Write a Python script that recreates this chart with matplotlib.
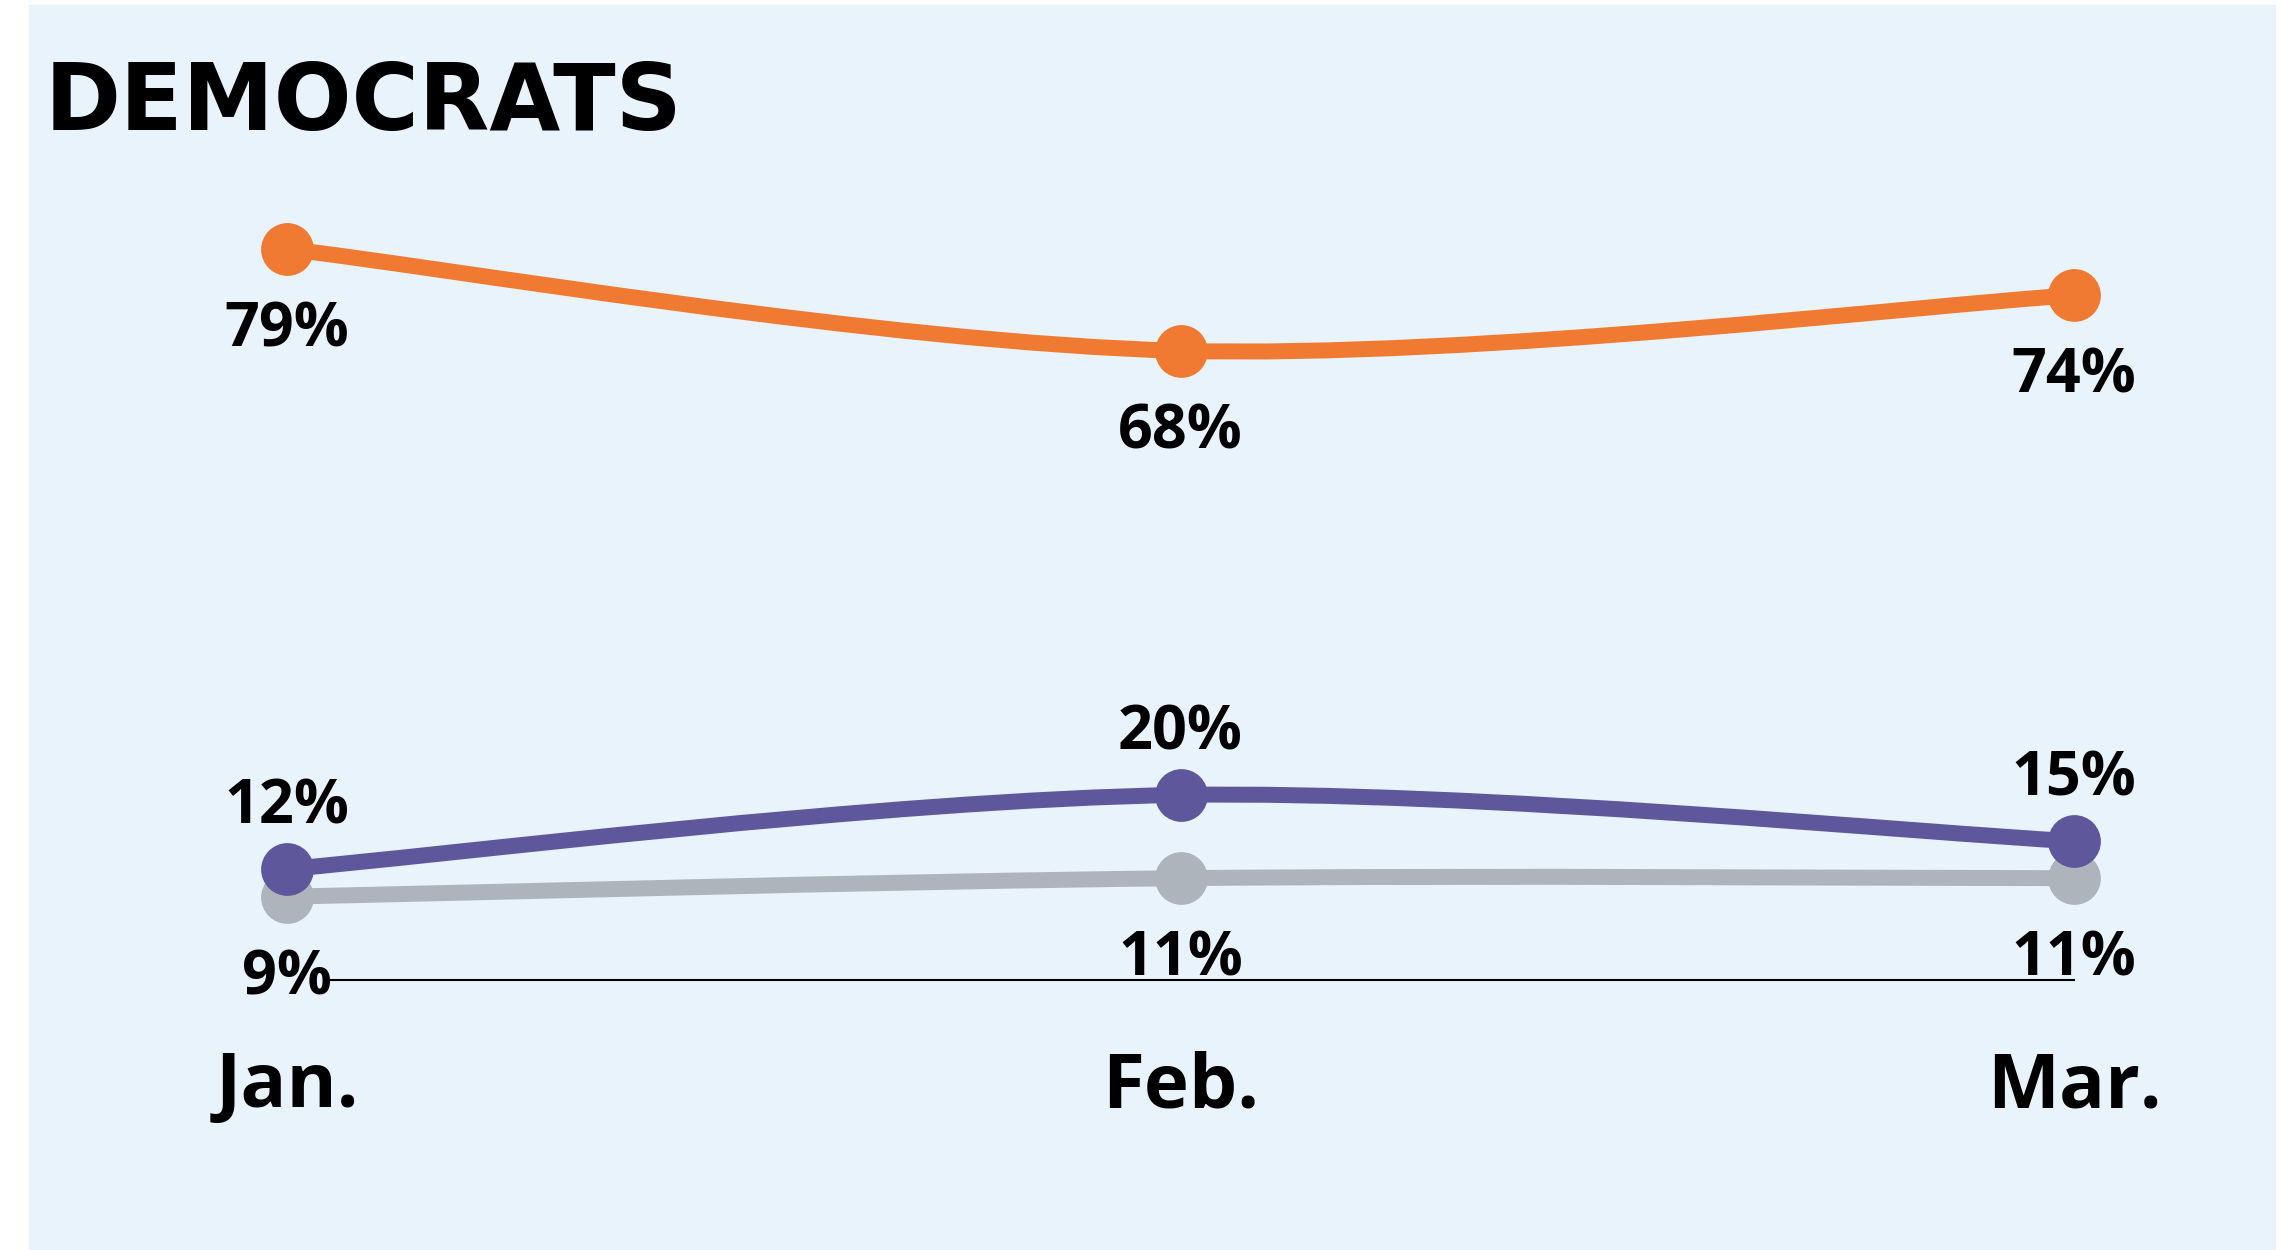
import numpy as np
import matplotlib.pyplot as plt
from matplotlib.path import Path
from matplotlib.patches import PathPatch, Rectangle
from matplotlib import font_manager

# poll shares among Democrats
months = ['Jan.', 'Feb.', 'Mar.']
orange_vals = [79, 68, 74]
purple_vals = [12, 20, 15]
gray_vals = [9, 11, 11]

W, H, DPI = 2289, 1250, 100
bg = '#E8F3FC'
c_orange = '#F07A32'
c_purple = '#5E579B'
c_gray = '#AEB4BC'
num_font = ['Open Sans', 'DejaVu Sans']

# condensed face for the title if there is one
names = {f.name for f in font_manager.fontManager.ttflist}
cond = [n for n in ['DejaVu Sans Condensed', 'Liberation Sans Narrow'] if n in names]
title_font = cond[:1] + ['DejaVu Sans']
title_size = 74 if cond else 66


def smooth_path(xs, ys):
    # cardinal (catmull-rom) spline through the points, as bezier segments
    pts = np.column_stack([xs, ys]).astype(float)
    ext = np.vstack([pts[0], pts, pts[-1]])
    verts = [pts[0]]
    codes = [Path.MOVETO]
    for i in range(len(pts) - 1):
        p0, p1, p2, p3 = ext[i], ext[i + 1], ext[i + 2], ext[i + 3]
        verts += [p1 + (p2 - p0) / 6, p2 - (p3 - p1) / 6, p2]
        codes += [Path.CURVE4] * 3
    return Path(verts, codes)


fig = plt.figure(figsize=(W / DPI, H / DPI), dpi=DPI)
fig.patch.set_facecolor('white')
fig.add_artist(Rectangle((29 / W, 0), (2275 - 29) / W, (H - 5) / H,
                         transform=fig.transFigure, color=bg, zorder=0))

ax = fig.add_axes([0, 0, 1, 1])
ax.set_facecolor('none')
ax.axis('off')
# map Jan -> 287px, Mar -> 2074px, 0% -> 980px from top, 79% -> 249px
xs_px = (2074 - 287) / 2
ys_px = (980 - 249) / 79
x0 = -287 / xs_px
ax.set_xlim(x0, x0 + W / xs_px)
y0 = -(H - 980) / ys_px
ax.set_ylim(y0, y0 + H / ys_px)

x = np.arange(len(months))

ax.plot([0.045, 2], [0, 0], color='black', lw=1.5, zorder=1)

series = [
    (gray_vals, c_gray, -59, 2),
    (purple_vals, c_purple, 44, 3),
    (orange_vals, c_orange, -59, 3),
]
for vals, col, off, z in series:
    ax.add_patch(PathPatch(smooth_path(x, vals), facecolor='none', edgecolor=col,
                           lw=11.5, capstyle='butt', zorder=z))
    ax.plot(x, vals, 'o', color=col, markersize=38, markeredgewidth=0, zorder=z)
    for xi, v in zip(x, vals):
        ax.annotate(f'{v}%', (xi, v), xytext=(0, off), textcoords='offset points',
                    ha='center', va='center', fontsize=44, fontweight='bold',
                    family=num_font, color='black', zorder=5)

for xi, m in zip(x, months):
    fig.text(ax.transData.transform((xi, 0))[0] / W, 1 - 1107 / H, m,
             ha='center', va='baseline', fontsize=55, fontweight='bold',
             family=num_font, color='black')

fig.text(45 / W, 1 - 130 / H, 'DEMOCRATS', ha='left', va='baseline',
         fontsize=title_size, fontweight='bold', family=title_font, color='black')

fig.savefig('out.png', dpi=DPI)
